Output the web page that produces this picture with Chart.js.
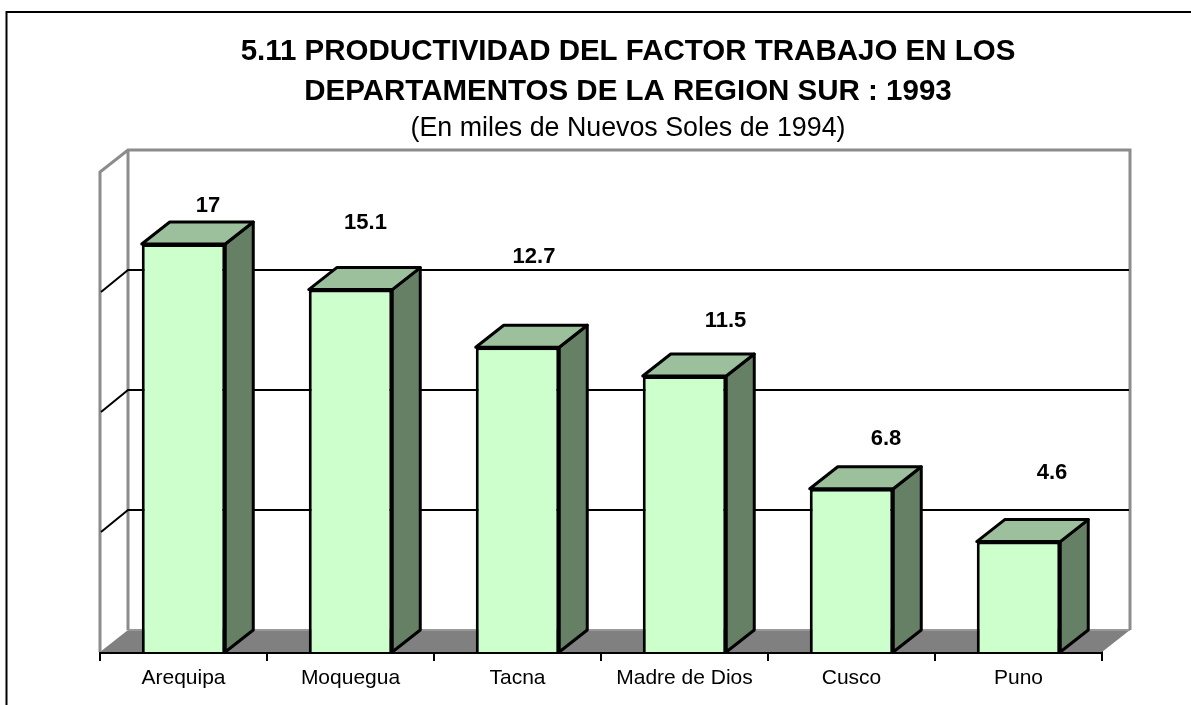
<!DOCTYPE html>
<html>
<head>
<meta charset="utf-8">
<title>Productividad del factor trabajo</title>
<script src="https://cdn.jsdelivr.net/npm/chart.js@4"></script>
<style>
  html, body { margin: 0; padding: 0; background: #fff; overflow: hidden; }
  canvas { display: block; }
</style>
</head>
<body>
<canvas id="chart" width="1191" height="705"></canvas>
<script>
const categories = ['Arequipa', 'Moquegua', 'Tacna', 'Madre de Dios', 'Cusco', 'Puno'];
const values = [17, 15.1, 12.7, 11.5, 6.8, 4.6];
const valueLabels = ['17', '15.1', '12.7', '11.5', '6.8', '4.6'];
const gridValues = [5, 10, 15];

// the labels were moved by hand in the original, offsets from the bar's top centre
const labelOffsetX = [24.5, 15, 16.5, 41, 34.5, 33.5];
const labelOffsetY = [-38.5, -66.6, -90, -55, -50, -68.6];

const FONT = '"Liberation Sans", Arial, sans-serif';
const depthX = 28;
const depthY = 22;

function poly(ctx, pts, fill, stroke, width) {
    ctx.beginPath();
    pts.forEach((p, i) => i ? ctx.lineTo(p[0], p[1]) : ctx.moveTo(p[0], p[1]));
    ctx.closePath();
    if (fill) {
        ctx.fillStyle = fill;
        ctx.fill();
    }
    if (stroke) {
        ctx.strokeStyle = stroke;
        ctx.lineWidth = width;
        ctx.lineJoin = 'round';
        ctx.stroke();
    }
}

function line(ctx, pts, color, width) {
    ctx.beginPath();
    pts.forEach((p, i) => i ? ctx.lineTo(p[0], p[1]) : ctx.moveTo(p[0], p[1]));
    ctx.strokeStyle = color;
    ctx.lineWidth = width;
    ctx.stroke();
}

// walls, floor, grid and bar sides sit behind the front faces Chart.js draws
const box3d = {
    id: 'box3d',
    beforeDatasetsDraw(chart) {
        const ctx = chart.ctx;
        const y = chart.scales.y;
        const { left, right } = chart.chartArea;
        const top = y.getPixelForValue(20);
        const base = y.getPixelForValue(0);
        const wall = '#8c8c8c';

        ctx.save();
        // frame of the sheet, only top and left fall inside the picture
        line(ctx, [[6.5, chart.height], [6.5, 12], [chart.width, 12]], '#000', 2);

        poly(ctx, [[left, base], [left + depthX, base - depthY], [right + depthX, base - depthY], [right, base]], '#808080');
        line(ctx, [[left + depthX, base - depthY], [right + depthX, base - depthY]], '#999', 2);

        line(ctx, [[left, base], [left, top], [left + depthX, top - depthY], [right + depthX, top - depthY], [right + depthX, base - depthY]], wall, 3);
        line(ctx, [[left + depthX, top - depthY], [left + depthX, base - depthY]], wall, 3);

        gridValues.forEach(v => {
            const p = y.getPixelForValue(v);
            line(ctx, [[left + 1, p], [left + depthX, p - depthY], [right + depthX - 1, p - depthY]], '#000', 2);
        });

        chart.getDatasetMeta(0).data.forEach(bar => {
            const l = bar.x - bar.width / 2;
            const r = bar.x + bar.width / 2;
            poly(ctx, [[r, bar.y], [r + depthX, bar.y - depthY], [r + depthX, bar.base - depthY], [r, bar.base]], '#668066', '#000', 3);
            poly(ctx, [[l, bar.y], [l + depthX, bar.y - depthY], [r + depthX, bar.y - depthY], [r, bar.y]], '#9CBF9C', '#000', 3);
        });
        ctx.restore();
    },
    afterDatasetsDraw(chart) {
        const ctx = chart.ctx;
        ctx.save();
        ctx.font = 'bold 22px ' + FONT;
        ctx.fillStyle = '#000';
        ctx.textAlign = 'center';
        ctx.textBaseline = 'middle';
        chart.getDatasetMeta(0).data.forEach((bar, i) => {
            ctx.fillText(valueLabels[i], bar.x + labelOffsetX[i], bar.y + labelOffsetY[i]);
        });
        ctx.restore();
    }
};

new Chart(document.getElementById('chart').getContext('2d'), {
    type: 'bar',
    data: {
        labels: categories,
        datasets: [{
            data: values,
            backgroundColor: '#CCFFCC',
            borderColor: '#000',
            borderWidth: 3,
            barPercentage: 1,
            categoryPercentage: 0.5
        }]
    },
    options: {
        responsive: false,
        animation: false,
        // left padding is bigger than the right one so the title centres right of the plot
        layout: { padding: { left: 65, right: 0, top: 0, bottom: 0 } },
        scales: {
            x: {
                grid: { drawOnChartArea: false, drawTicks: true, tickLength: 9, color: '#000', lineWidth: 2 },
                border: { display: true, color: '#000', width: 3 },
                ticks: {
                    color: '#000',
                    font: { family: FONT, size: 21 },
                    padding: 5,
                    maxRotation: 0,
                    autoSkip: false
                },
                afterFit(scale) { scale.height = 53; }
            },
            y: {
                min: 0,
                max: 20,
                grid: { display: false },
                border: { display: false },
                ticks: { display: false, stepSize: 5 },
                afterFit(scale) { scale.width = 35; }
            },
            spacer: {
                position: 'right',
                grid: { display: false },
                border: { display: false },
                ticks: { display: false },
                afterFit(scale) { scale.width = 89; }
            }
        },
        plugins: {
            legend: { display: false },
            tooltip: { enabled: false },
            title: {
                display: true,
                text: ['5.11 PRODUCTIVIDAD DEL FACTOR TRABAJO EN LOS', 'DEPARTAMENTOS DE LA REGION SUR : 1993'],
                color: '#000',
                font: { family: FONT, size: 29.5, weight: 'bold', lineHeight: 40 / 29.5 },
                padding: { top: 32, bottom: 0 }
            },
            subtitle: {
                display: true,
                text: '(En miles de Nuevos Soles de 1994)',
                color: '#000',
                font: { family: FONT, size: 26.8, lineHeight: 1 },
                padding: { top: 3.6, bottom: 29.6 }
            }
        }
    },
    plugins: [box3d]
});
</script>
</body>
</html>
